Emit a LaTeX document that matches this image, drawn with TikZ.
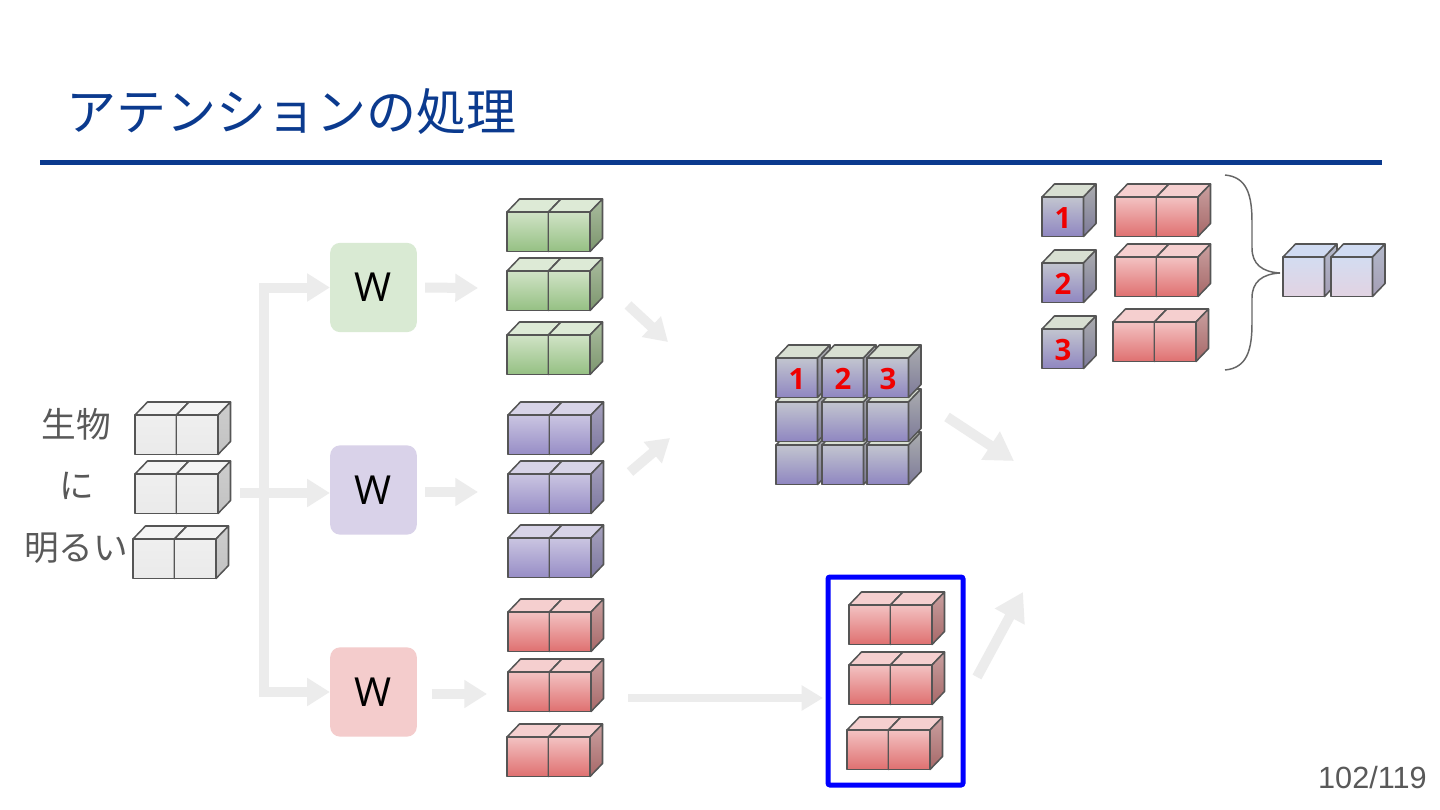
\documentclass[tikz,border=0pt]{standalone}
\usepackage{fontspec}
\setmainfont{Open Sans}
\newfontfamily\jpfont{Noto Sans CJK JP}
\newfontfamily\arialfont{Liberation Sans}
\usetikzlibrary{arrows.meta}
\definecolor{edge}{HTML}{555555}
\definecolor{arrowgrey}{HTML}{ECECEC}
\definecolor{titleblue}{HTML}{0B3A8E}
\definecolor{txtgrey}{HTML}{595959}
\definecolor{wgreen}{HTML}{D9EAD3}
\definecolor{wpurple}{HTML}{D9D2E9}
\definecolor{wred}{HTML}{F4CCCC}
\definecolor{numred}{HTML}{F00000}
% palettes: top, front a (upper), front b (lower), side a, side b
\definecolor{grytop}{HTML}{F4F4F4}\definecolor{gryfa}{HTML}{EFEFEF}\definecolor{gryfb}{HTML}{EAEAEA}\definecolor{grysa}{HTML}{CDCDCD}\definecolor{grysb}{HTML}{C2C2C2}
\definecolor{grntop}{HTML}{DDEAD6}\definecolor{grnfa}{HTML}{D0E3C6}\definecolor{grnfb}{HTML}{95C083}\definecolor{grnsa}{HTML}{A9BC9E}\definecolor{grnsb}{HTML}{7D966E}
\definecolor{purtop}{HTML}{D7D3E7}\definecolor{purfa}{HTML}{CAC5E1}\definecolor{purfb}{HTML}{978DC6}\definecolor{pursa}{HTML}{A7A2BE}\definecolor{pursb}{HTML}{7C779F}
\definecolor{redtop}{HTML}{F5CFCF}\definecolor{redfa}{HTML}{F3C2C2}\definecolor{redfb}{HTML}{DF7070}\definecolor{redsa}{HTML}{C9A0A0}\definecolor{redsb}{HTML}{A76868}
\definecolor{keytop}{HTML}{D8DFD2}\definecolor{keyfa}{HTML}{C2C5CF}\definecolor{keyfb}{HTML}{8F86C1}\definecolor{keysa}{HTML}{ABADAF}\definecolor{keysb}{HTML}{7D7A99}
\definecolor{outtop}{HTML}{D0DBF2}\definecolor{outfa}{HTML}{D3DCF1}\definecolor{outfb}{HTML}{E2D3E2}\definecolor{outsa}{HTML}{B3B8CA}\definecolor{outsb}{HTML}{A49EB5}
\tikzset{
  cubeedge/.style={draw=edge, line width=1.15pt, line join=round},
  fatline/.style={draw=arrowgrey, line width=7.5pt},
  fat/.style={draw=arrowgrey, line width=7.5pt, -{Triangle[length=17pt,width=20pt]}},
  thinarrow/.style={draw=arrowgrey, line width=5.5pt, -{Triangle[length=16pt,width=18pt]}},
  fatbig/.style={draw=arrowgrey, line width=7.5pt, -{Triangle[length=21pt,width=24pt]}},
  wbox/.style={minimum width=65pt, minimum height=67pt, rounded corners=7.5pt, inner sep=0pt, font=\fontsize{30}{30}\selectfont, text=black},
  num/.style={font=\bfseries\fontsize{22}{22}\selectfont, text=numred, inner sep=0pt},
  lbl/.style={font=\jpfont\fontsize{26}{26}\selectfont, text=txtgrey, inner sep=0pt},
}
\newcommand{\mycube}[3]{%
  \shadedraw[cubeedge, top color=#3fa, bottom color=#3fb] (#1,-#2) rectangle ({#1+41.5},{-#2-39.5});
  \filldraw[cubeedge, fill=#3top] (#1,-#2) -- ++(12.5,13) -- ++(41.5,0) -- ++(-12.5,-13) -- cycle;
  \shadedraw[cubeedge, top color=#3sa, bottom color=#3sb] ({#1+41.5},-#2) -- ++(12.5,13) -- ++(0,-39.5) -- ++(-12.5,-13) -- cycle;
}
\newcommand{\mybar}[3]{\mycube{#1}{#2}{#3}\mycube{#1+41.5}{#2}{#3}}
\begin{document}
\begin{tikzpicture}[x=0.75pt,y=0.75pt]
\fill[white] (0,0) rectangle (1440,-810);
\useasboundingbox (0,0) rectangle (1440,-810);
% title
\node[anchor=base west, inner sep=0pt, font=\jpfont\fontsize{37.5}{37.5}\selectfont, text=titleblue] (title) at (66,-130) {アテンションの処理};
\draw[titleblue, line width=3.75pt] (40,-162) -- (1382,-162);
% W boxes
\node[wbox, fill=wgreen] (Wg) at (373.5,-287.5) {W};
\node[wbox, fill=wpurple] (Wp) at (373.5,-490) {W};
\node[wbox, fill=wred] (Wr) at (373.5,-692) {W};
% coordinates
\coordinate (in0) at (240,-493);
\coordinate (trunk) at (264,-493);
\coordinate (gT) at (478,-288);
\coordinate (pT) at (478,-492);
\coordinate (rT) at (487,-694);
\coordinate (d1s) at (628,-305); \coordinate (d1e) at (668,-342);
\coordinate (d2s) at (630,-472); \coordinate (d2e) at (670,-438);
\coordinate (d3s) at (947,-417); \coordinate (d3e) at (1014,-461);
\coordinate (d4s) at (977,-677); \coordinate (d4e) at (1023,-592);
\coordinate (ls) at (628,-698); \coordinate (le) at (823,-698);
% connectors
\draw[fatline] (in0) -- (trunk);
\draw[fat] (trunk) |- (Wg.west);
\draw[fat] (trunk) -- (Wp.west |- trunk);
\draw[fat] (trunk) |- (Wr.west);
\draw[fat, shorten <=6pt] (Wg.east) -- (gT);
\draw[fat, shorten <=6pt] (Wp.east |- pT) -- (pT);
\draw[fat, shorten <=11pt] (Wr.east |- rT) -- (rT);
\draw[fat] (d1s) -- (d1e);
\draw[fat] (d2s) -- (d2e);
\draw[thinarrow] (ls) -- (le);
\draw[fatbig] (d3s) -- (d3e);
\draw[fatbig] (d4s) -- (d4e);
% input labels and cubes
\node[lbl] (l1) at (76,-424) {生物};
\node[lbl] (l2) at (77,-486) {に};
\node[lbl] (l3) at (76,-548) {明るい};
\mybar{135}{415}{gry}
\mybar{135}{474}{gry}
\mybar{133}{539}{gry}
% Q K V
\mybar{507}{212}{grn}
\mybar{507}{271}{grn}
\mybar{507}{335}{grn}
\mybar{508}{415}{pur}
\mybar{508}{474}{pur}
\mybar{508}{538}{pur}
\mybar{508}{612}{red}
\mybar{508}{672}{red}
\mybar{507}{737}{red}
% grid
\foreach \yy in {445,402,358}{
  \foreach \xx in {776,822,867}{
    \mycube{\xx}{\yy}{key}
  }
}
\node[num] (g1) at (797,-379) {1};
\node[num] (g2) at (843,-379) {2};
\node[num] (g3) at (888,-379) {3};
% blue box
\draw[blue, line width=3.75pt, rounded corners=1.5pt] (828,-577) rectangle (963,-785);
\mybar{849}{605}{red}
\mybar{849}{665}{red}
\mybar{847}{730}{red}
% top right
\mycube{1042}{197}{key}
\mycube{1042}{263}{key}
\mycube{1042}{329}{key}
\node[num] (k1) at (1063,-218) {1};
\node[num] (k2) at (1063,-284) {2};
\node[num] (k3) at (1063,-350) {3};
\mybar{1115}{197}{red}
\mybar{1115}{257}{red}
\mybar{1113}{322}{red}
\draw[edge!90, line width=1.1pt] (1225,-175) .. controls (1247,-177) and (1252,-195) .. (1252,-222) -- (1252,-248)
  .. controls (1252,-264) and (1262,-272) .. (1280,-273)
  .. controls (1262,-274) and (1252,-282) .. (1252,-298) -- (1252,-323)
  .. controls (1252,-350) and (1247,-368) .. (1225,-370);
\mycube{1283}{257}{out}
\mycube{1331}{257}{out}
% page number
\node[anchor=east, inner sep=0pt, font=\arialfont\fontsize{23}{23}\selectfont, text=txtgrey] (pg) at (1427,-778) {102/119};
\end{tikzpicture}
\end{document}
